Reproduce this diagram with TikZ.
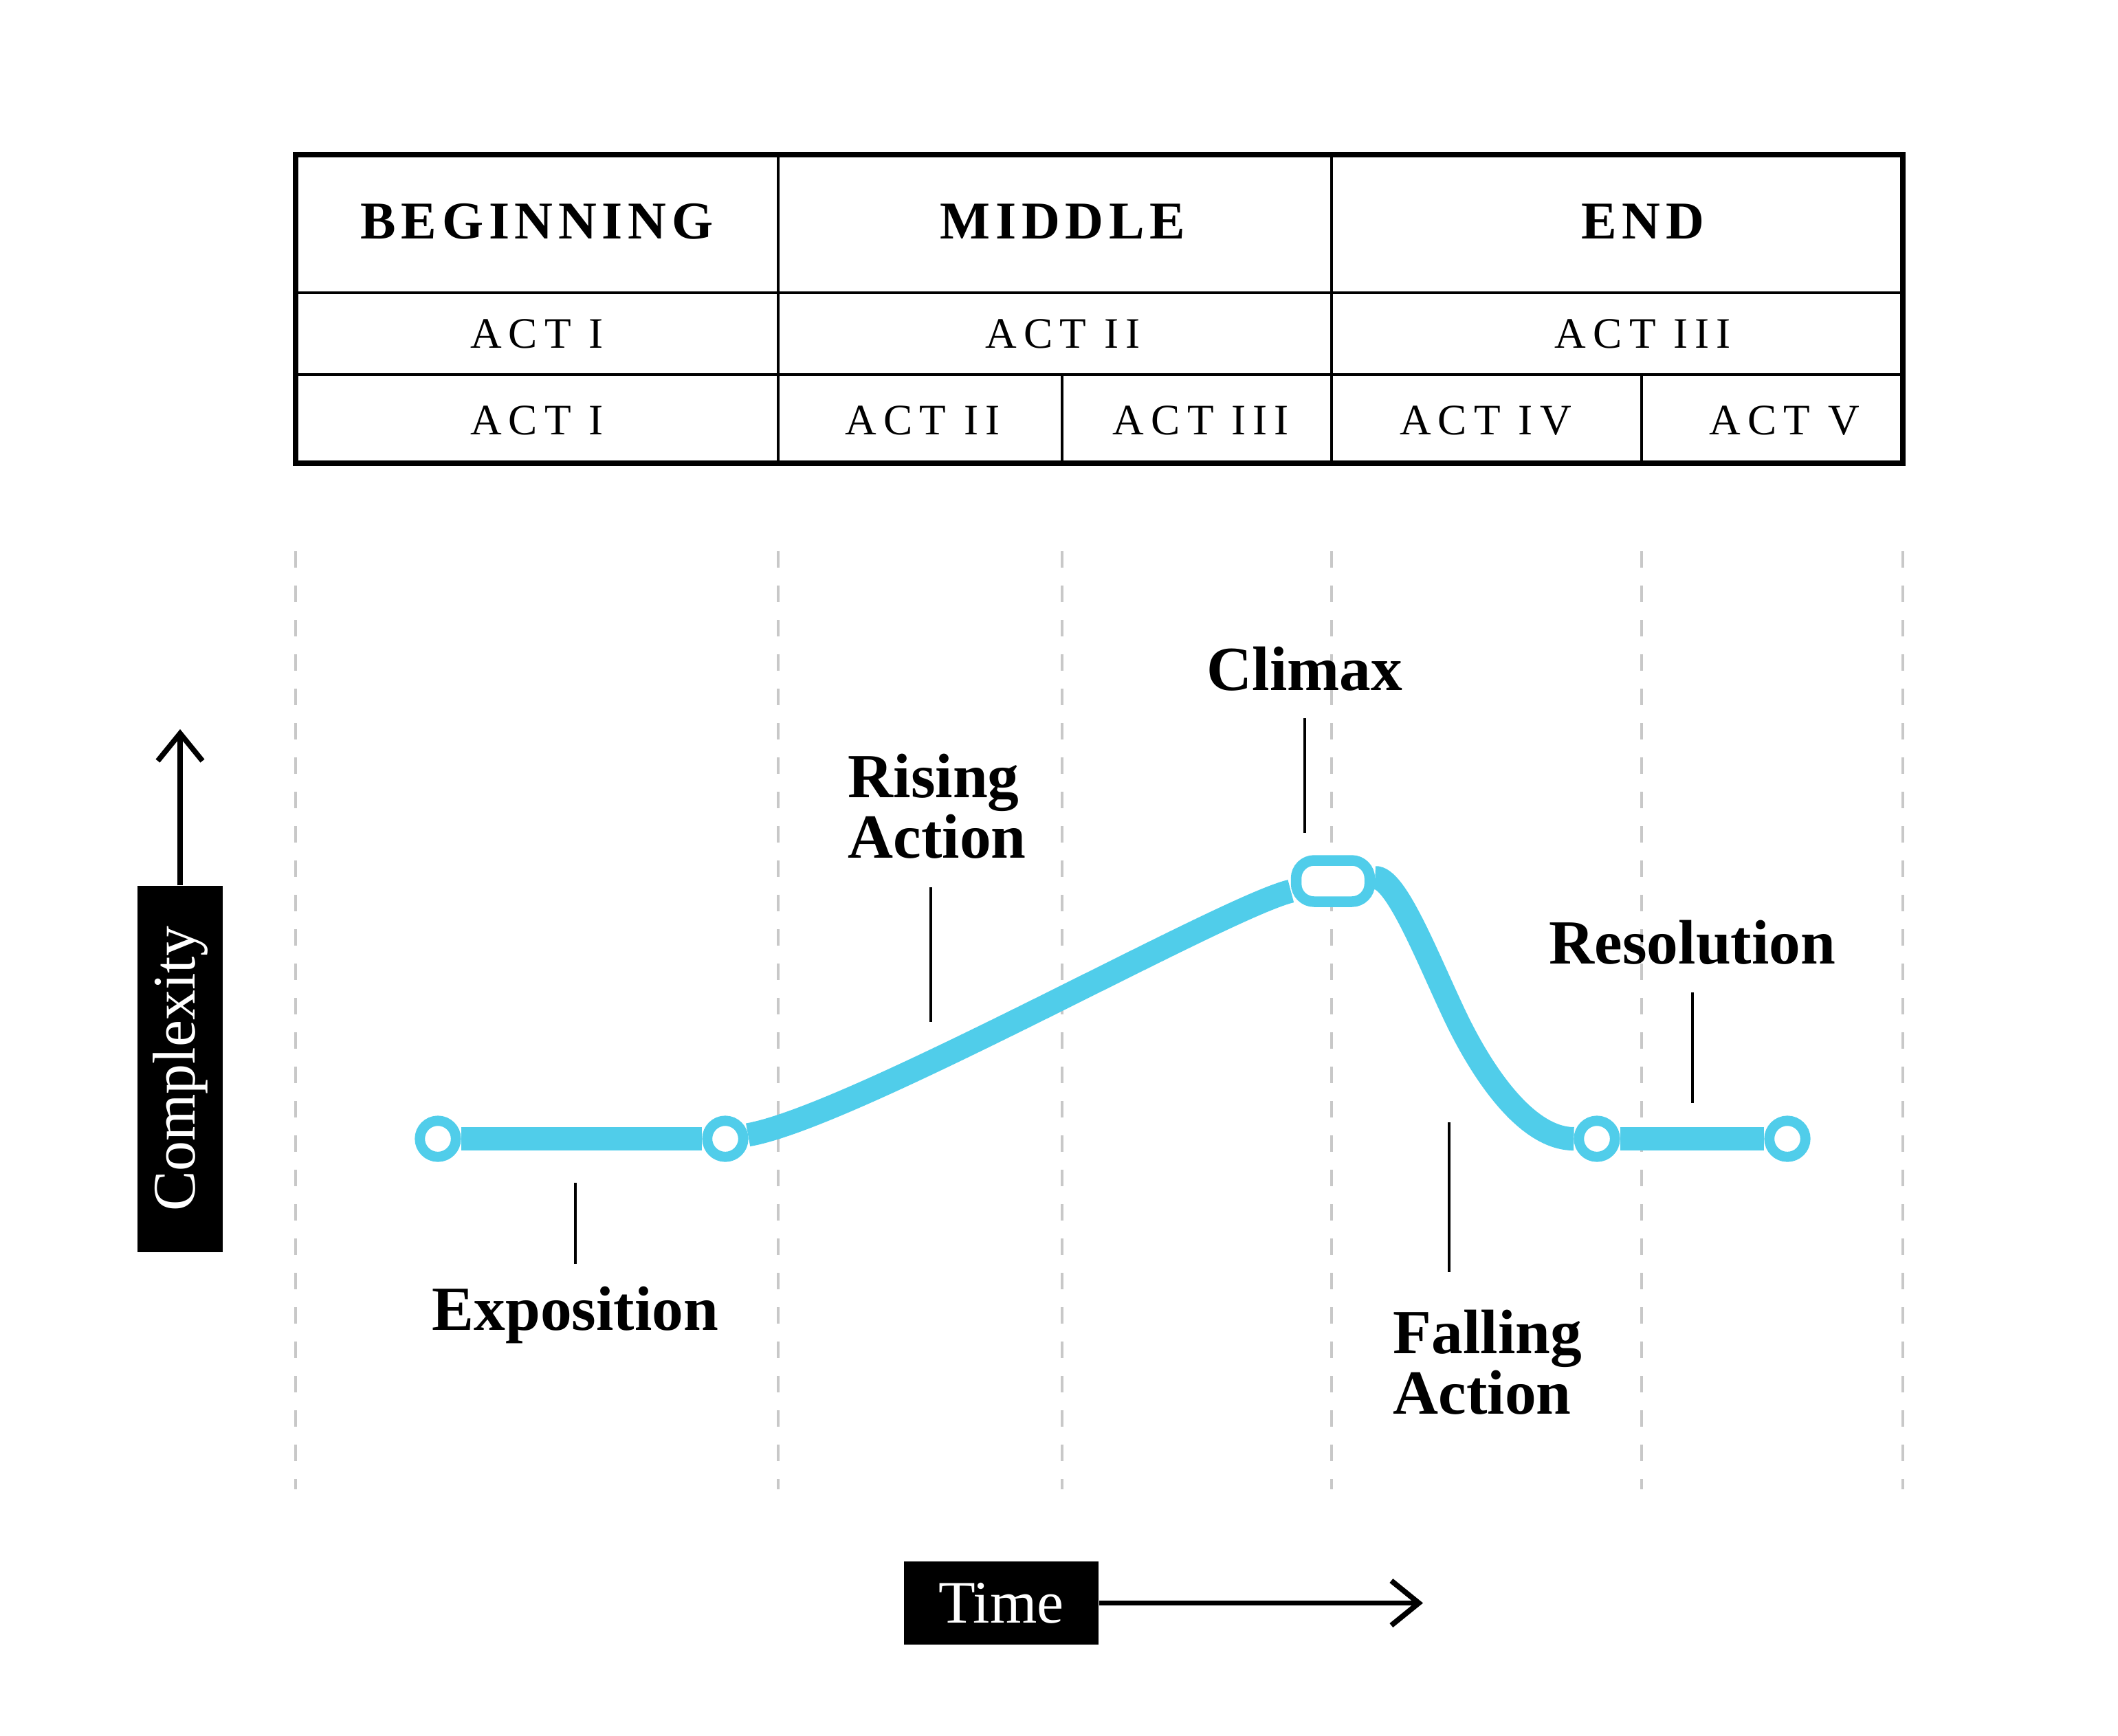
\documentclass[tikz,border=0pt]{standalone}
\usepackage{fontspec}
\setmainfont{Liberation Serif}
\usetikzlibrary{arrows.meta,positioning,backgrounds}

\definecolor{arcblue}{RGB}{80,205,234}
\definecolor{guidegray}{RGB}{200,200,200}

\tikzset{
  headcell/.style={inner sep=0pt,font=\fontsize{22}{26}\selectfont\bfseries\addfontfeature{LetterSpace=10}},
  actcell/.style={inner sep=0pt,font=\fontsize{18}{22}\selectfont\addfontfeature{LetterSpace=16}},
  lbl/.style={inner sep=0pt,font=\fontsize{26}{25}\selectfont\bfseries},
  ticker/.style={line width=1.3pt},
  guideline/.style={draw=guidegray,line width=1.15pt,dash pattern=on 0.24cm off 0.26cm},
  arcline/.style={draw=arcblue,line width=9.7pt},
  stopring/.style={circle,draw=arcblue,fill=white,line width=4.2pt,minimum size=0.525cm,inner sep=0pt},
  peakring/.style={rectangle,rounded corners=0.26cm,draw=arcblue,fill=white,line width=4.4pt,
    minimum width=1.07cm,minimum height=0.6cm,inner sep=0pt},
  axisbox/.style={fill=black,text=white,inner sep=0pt,font=\fontsize{25}{30}\selectfont},
  axisarrow/.style={line width=2.2pt,-{Straight Barb[length=4mm,width=6.5mm]}}
}

\begin{document}
\begin{tikzpicture}[x=1cm,y=1cm]
  \useasboundingbox (0,0) rectangle (30.81,-25.25);

  % table
  \draw[line width=1.1pt] (4.30,-4.26) -- (27.68,-4.26);
  \draw[line width=1.1pt] (4.30,-5.45) -- (27.68,-5.45);
  \draw[line width=1.1pt] (11.32,-2.25) -- (11.32,-6.74);
  \draw[line width=1.1pt] (19.37,-2.25) -- (19.37,-6.74);
  \draw[line width=1.1pt] (15.45,-5.45) -- (15.45,-6.74);
  \draw[line width=1.1pt] (23.88,-5.45) -- (23.88,-6.74);
  \draw[line width=2.2pt] (4.30,-2.25) rectangle (27.68,-6.74);

  \node[headcell] (hBeg) at (7.81,-3.22) {BEGINNING};
  \node[headcell] (hMid) at (15.46,-3.22) {MIDDLE};
  \node[headcell] (hEnd) at (23.90,-3.22) {END};

  \node[actcell] (threeA) at (7.81,-4.86) {ACT I};
  \node[actcell] (threeB) at (15.46,-4.86) {ACT II};
  \node[actcell] (threeC) at (23.90,-4.86) {ACT III};

  \node[actcell] (fiveA) at (7.81,-6.12) {ACT I};
  \node[actcell] (fiveB) at (13.42,-6.12) {ACT II};
  \node[actcell] (fiveC) at (17.47,-6.12) {ACT III};
  \node[actcell] (fiveD) at (21.61,-6.12) {ACT IV};
  \node[actcell] (fiveE) at (25.96,-6.12) {ACT V};

  % story arc
  \node[stopring] (n1) at (6.37,-16.57) {};
  \node[stopring] (n2) at (10.55,-16.57) {};
  \node[stopring] (n3) at (23.23,-16.57) {};
  \node[stopring] (n4) at (26.00,-16.57) {};
  \node[peakring] (peak) at (19.39,-12.82) {};

  \begin{scope}[on background layer]
    \foreach \gx in {4.30,11.32,15.45,19.37,23.88,27.68}
      \draw[guideline] (\gx,-8.02) -- (\gx,-21.67);
    \draw[arcline] (n1) -- (n2);
    \draw[arcline] (n2) .. controls (12.4,-16.25) and (17.8,-13.2) .. (peak);
    \draw[arcline] (peak) .. controls (20.3,-12.75) and (20.75,-13.9) .. (21.15,-14.75)
      .. controls (21.55,-15.6) and (22.2,-16.57) .. (n3);
    \draw[arcline] (n3) -- (n4);
  \end{scope}

  % labels
  \node[lbl,anchor=base] (expo) at (8.37,-19.35) {Exposition};
  \node[lbl,align=left,anchor=base west] (rise) at (12.33,-12.48) {Rising\\Action};
  \node[lbl,anchor=base] (clim) at (18.98,-10.04) {Climax};
  \node[lbl,align=left,anchor=base west] (fall) at (20.26,-20.57) {Falling\\Action};
  \node[lbl,anchor=base] (reso) at (24.62,-14.02) {Resolution};

  \coordinate (expoTop) at (8.37,-17.21);
  \coordinate (expoBot) at (8.37,-18.39);
  \coordinate (riseTop) at (13.54,-12.91);
  \coordinate (riseBot) at (13.54,-14.87);
  \coordinate (climTop) at (18.98,-10.45);
  \coordinate (climBot) at (18.98,-12.12);
  \coordinate (fallTop) at (21.08,-16.33);
  \coordinate (fallBot) at (21.08,-18.51);
  \coordinate (resoTop) at (24.62,-14.44);
  \coordinate (resoBot) at (24.62,-16.05);
  \draw[ticker] (expoTop) -- (expoBot);
  \draw[ticker] (riseTop) -- (riseBot);
  \draw[ticker] (climTop) -- (climBot);
  \draw[ticker] (fallTop) -- (fallBot);
  \draw[ticker] (resoTop) -- (resoBot);

  % axes
  \node[axisbox,minimum width=1.24cm,minimum height=5.33cm] (cplx) at (2.62,-15.555) {\rotatebox{90}{Complexity}};
  \coordinate (cplxTip) at (2.62,-10.61);
  \draw[axisarrow] (cplx.north) -- (cplxTip);

  \node[axisbox,minimum width=2.83cm,minimum height=1.21cm] (time) at (14.565,-23.325) {Time};
  \coordinate (timeTip) at (20.70,-23.325);
  \draw[axisarrow] (time.east) -- (timeTip);
\end{tikzpicture}
\end{document}
